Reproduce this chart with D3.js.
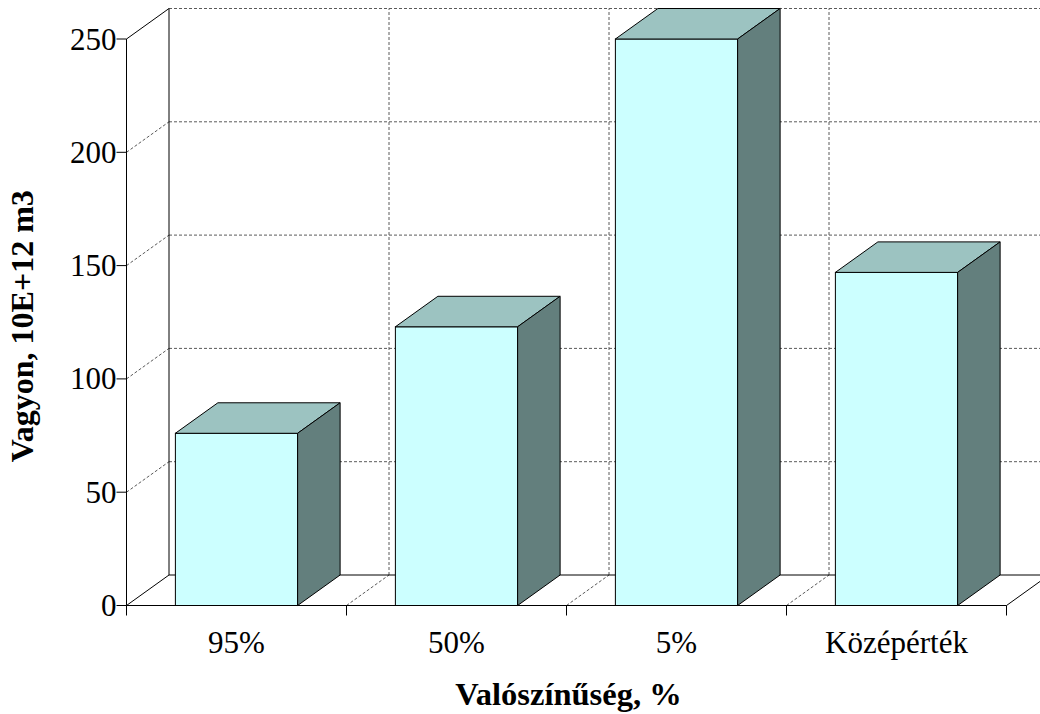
<!DOCTYPE html>
<html>
<head>
<meta charset="utf-8">
<script src="https://cdn.jsdelivr.net/npm/d3@7"></script>
<style>
  html, body { margin: 0; padding: 0; background: #fff; }
  svg { display: block; }
  text { font-family: "Liberation Serif", "Times New Roman", serif; fill: #000; }
</style>
</head>
<body>
<svg id="chart" width="1040" height="714"></svg>
<script>
// Data
const categories = ["95%", "50%", "5%", "Középérték"];
const values = [76, 123, 250, 147];
const yTicks = [0, 50, 100, 150, 200, 250];
const xTitle = "Valószínűség, %";
const yTitle = "Vagyon, 10E+12 m3";

const W = 1040, H = 714;
const svg = d3.select("#chart");

// Front plane of the 3D box
const x0 = 126.5, x1 = 1006.5;
const yBase = 605.5, yTop = 39;
// Depth offset of the back wall
const DX = 42.5, DY = -30.5;

const x = d3.scaleBand()
  .domain(categories)
  .range([x0, x1])
  .paddingInner(4 / 9)
  .paddingOuter(2 / 9);

const y = d3.scaleLinear().domain([0, 250]).range([yBase, yTop]);

const step = x.step();
const boundaries = d3.range(categories.length + 1).map(i => x0 + i * step);

const gridStyle = sel => sel
  .attr("stroke", "#5a5a5a")
  .attr("stroke-width", 1)
  .attr("stroke-dasharray", "3,2")
  .attr("fill", "none");

const solid = sel => sel
  .attr("stroke", "#000")
  .attr("stroke-width", 1)
  .attr("fill", "none");

const walls = svg.append("g");

// Back wall horizontal gridlines
walls.selectAll("line.bgrid")
  .data(yTicks.filter(d => d > 0))
  .join("line")
  .attr("x1", x0 + DX).attr("x2", x1 + DX)
  .attr("y1", d => y(d) + DY).attr("y2", d => y(d) + DY)
  .call(gridStyle);

// Left wall gridlines (diagonals)
walls.selectAll("line.lgrid")
  .data(yTicks.filter(d => d > 0 && d < 250))
  .join("line")
  .attr("x1", x0).attr("y1", d => y(d))
  .attr("x2", x0 + DX).attr("y2", d => y(d) + DY)
  .call(gridStyle);

// Back wall vertical gridlines and floor diagonals at category boundaries
const inner = boundaries.slice(1, -1);
walls.selectAll("line.vgrid")
  .data(inner)
  .join("line")
  .attr("x1", d => d + DX).attr("x2", d => d + DX)
  .attr("y1", y(0) + DY).attr("y2", y(250) + DY)
  .call(gridStyle);
walls.selectAll("line.fgrid")
  .data(inner)
  .join("line")
  .attr("x1", d => d).attr("y1", y(0))
  .attr("x2", d => d + DX).attr("y2", y(0) + DY)
  .call(gridStyle);

// Box edges
const edges = [
  [x0, y(250), x0 + DX, y(250) + DY],
  [x0 + DX, y(250) + DY, x0 + DX, y(0) + DY],
  [x0, y(0), x0 + DX, y(0) + DY],
  [x0 + DX, y(0) + DY, x1 + DX, y(0) + DY],
  [x1, y(0), x1 + DX, y(0) + DY],
  [x1 + DX, y(0) + DY, x1 + DX, y(250) + DY]
];
walls.selectAll("line.edge")
  .data(edges)
  .join("line")
  .attr("x1", d => d[0]).attr("y1", d => d[1])
  .attr("x2", d => d[2]).attr("y2", d => d[3])
  .call(solid);

// Axes lines
walls.append("line")
  .attr("x1", x0).attr("x2", x0).attr("y1", y(250)).attr("y2", y(0))
  .call(solid);
walls.append("line")
  .attr("x1", x0).attr("x2", x1).attr("y1", y(0)).attr("y2", y(0))
  .call(solid);

// Y ticks and labels
const yAxis = svg.append("g");
yAxis.selectAll("line")
  .data(yTicks)
  .join("line")
  .attr("x1", x0 - 10).attr("x2", x0)
  .attr("y1", d => y(d)).attr("y2", d => y(d))
  .call(solid);
yAxis.selectAll("text")
  .data(yTicks)
  .join("text")
  .attr("x", x0 - 10)
  .attr("y", d => y(d))
  .attr("dy", "0.34em")
  .attr("text-anchor", "end")
  .attr("font-size", 31)
  .text(d => d);

// X ticks and labels
const xAxis = svg.append("g");
xAxis.selectAll("line")
  .data(boundaries)
  .join("line")
  .attr("x1", d => d).attr("x2", d => d)
  .attr("y1", y(0)).attr("y2", y(0) + 10)
  .call(solid);
xAxis.selectAll("text")
  .data(categories)
  .join("text")
  .attr("x", d => x(d) + x.bandwidth() / 2)
  .attr("y", 653)
  .attr("text-anchor", "middle")
  .attr("font-size", 31)
  .text(d => d);

// Bars: front face, top, side
const bars = svg.append("g");
categories.forEach((c, i) => {
  const bx = x(c), bw = x.bandwidth();
  const bt = y(values[i]), bb = y(0);
  const g = bars.append("g");
  g.append("rect")
    .attr("x", bx).attr("y", bt)
    .attr("width", bw).attr("height", bb - bt)
    .attr("fill", "#CCFFFF").attr("stroke", "#000").attr("stroke-width", 1);
  g.append("path")
    .attr("d", d3.line()([[bx, bt], [bx + DX, bt + DY], [bx + bw + DX, bt + DY], [bx + bw, bt]]) + "Z")
    .attr("fill", "#9CC3C1").attr("stroke", "#000").attr("stroke-width", 1)
    .attr("stroke-linejoin", "round");
  g.append("path")
    .attr("d", d3.line()([[bx + bw, bt], [bx + bw + DX, bt + DY], [bx + bw + DX, bb + DY], [bx + bw, bb]]) + "Z")
    .attr("fill", "#637F7D").attr("stroke", "#000").attr("stroke-width", 1)
    .attr("stroke-linejoin", "round");
});

// Axis titles
svg.append("text")
  .attr("x", (x0 + x1) / 2 + 2)
  .attr("y", 705)
  .attr("text-anchor", "middle")
  .attr("font-size", 32.5)
  .attr("font-weight", "bold")
  .text(xTitle);

svg.append("text")
  .attr("transform", `translate(33, ${(yTop + yBase) / 2 + 4}) rotate(-90)`)
  .attr("text-anchor", "middle")
  .attr("font-size", 32)
  .attr("font-weight", "bold")
  .text(yTitle);
</script>
</body>
</html>
